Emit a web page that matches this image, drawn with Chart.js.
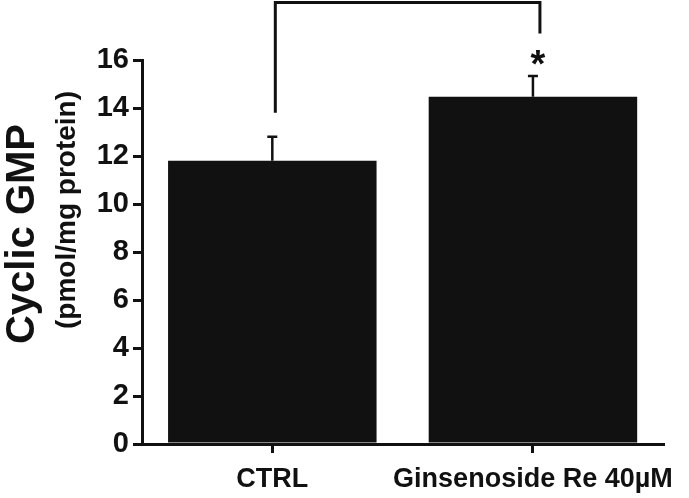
<!DOCTYPE html>
<html>
<head>
<meta charset="utf-8">
<script src="https://cdn.jsdelivr.net/npm/chart.js@4/dist/chart.umd.min.js"></script>
<style>
  html, body { margin: 0; padding: 0; background: #fff; }
  #wrap { width: 689px; height: 498px; position: relative; }
</style>
</head>
<body>
<div id="wrap"><canvas id="gmpChart"></canvas></div>
<script>
// data
const categories = ['CTRL', 'Ginsenoside Re 40\u00B5M'];
const meanValues = [11.8, 14.47];
const upperErrors = [12.8, 15.33];
const yTicks = [0, 2, 4, 6, 8, 10, 12, 14, 16];
// significance bracket: top level, left foot, right foot, star level
const bracketLevels = [18.4, 13.8, 17.1];
const starLevel = 16.1;

const ink = '#111111';
const fontFamily = '"Liberation Sans", Arial, Helvetica, sans-serif';

const annotations = {
    id: 'annotations',
    afterDatasetsDraw(chart) {
        const ctx = chart.ctx;
        const x = chart.scales.x;
        const y = chart.scales.y;
        ctx.save();
        ctx.strokeStyle = ink;
        ctx.fillStyle = ink;

        // error bars (upper only)
        ctx.lineWidth = 2.5;
        meanValues.forEach((v, i) => {
            const cx = x.getPixelForValue(i);
            const top = y.getPixelForValue(upperErrors[i]);
            ctx.beginPath();
            ctx.moveTo(cx, y.getPixelForValue(v));
            ctx.lineTo(cx, top);
            ctx.moveTo(cx - 5, top);
            ctx.lineTo(cx + 5, top);
            ctx.stroke();
        });

        // bracket
        const lx = x.getPixelForValue(0) + 3;
        const rx = x.getPixelForValue(1) + 7;
        ctx.lineWidth = 3;
        ctx.beginPath();
        ctx.moveTo(lx, y.getPixelForValue(bracketLevels[1]));
        ctx.lineTo(lx, y.getPixelForValue(bracketLevels[0]));
        ctx.lineTo(rx, y.getPixelForValue(bracketLevels[0]));
        ctx.lineTo(rx, y.getPixelForValue(bracketLevels[2]));
        ctx.stroke();

        // star
        ctx.font = 'bold 38px ' + fontFamily;
        ctx.textAlign = 'center';
        ctx.textBaseline = 'middle';
        ctx.fillText('*', x.getPixelForValue(1) + 5, y.getPixelForValue(starLevel) + 9);

        // y axis title, two lines with different sizes
        ctx.textBaseline = 'alphabetic';
        ctx.translate(34, 234);
        ctx.rotate(-Math.PI / 2);
        ctx.font = 'bold 40px ' + fontFamily;
        ctx.fillText('Cyclic GMP', 0, 0);
        ctx.rotate(Math.PI / 2);
        ctx.translate(41, -24);
        ctx.rotate(-Math.PI / 2);
        ctx.font = 'bold 28px ' + fontFamily;
        ctx.fillText('(pmol/mg protein)', 0, 0);
        ctx.restore();
    }
};

new Chart(document.getElementById('gmpChart'), {
    type: 'bar',
    data: {
        labels: categories,
        datasets: [{
            data: meanValues,
            backgroundColor: ink,
            borderWidth: 0,
            barPercentage: 0.8,
            categoryPercentage: 1.0
        }]
    },
    options: {
        responsive: true,
        maintainAspectRatio: false,
        animation: false,
        layout: { padding: { top: 60, right: 25, left: 0, bottom: 0 } },
        plugins: {
            legend: { display: false },
            tooltip: { enabled: false }
        },
        scales: {
            x: {
                grid: {
                    display: true,
                    drawOnChartArea: false,
                    drawTicks: true,
                    tickLength: 9,
                    lineWidth: 3,
                    color: ink,
                    offset: false
                },
                border: { display: true, width: 3, color: ink },
                ticks: {
                    color: ink,
                    padding: 10,
                    autoSkip: false,
                    maxRotation: 0,
                    minRotation: 0,
                    font: { family: fontFamily, size: 27, weight: 'bold' }
                },
                afterFit(scale) { scale.height = 54; }
            },
            y: {
                min: 0,
                max: 16,
                afterBuildTicks(scale) { scale.ticks = yTicks.map(v => ({ value: v })); },
                grid: {
                    display: true,
                    drawOnChartArea: false,
                    drawTicks: true,
                    tickLength: 9,
                    lineWidth: 3,
                    color: ink
                },
                border: { display: true, width: 3, color: ink },
                ticks: {
                    color: ink,
                    padding: 4,
                    font: { family: fontFamily, size: 29, weight: 'bold' }
                },
                afterFit(scale) { scale.width = 142; }
            }
        }
    },
    plugins: [annotations]
});
</script>
</body>
</html>
